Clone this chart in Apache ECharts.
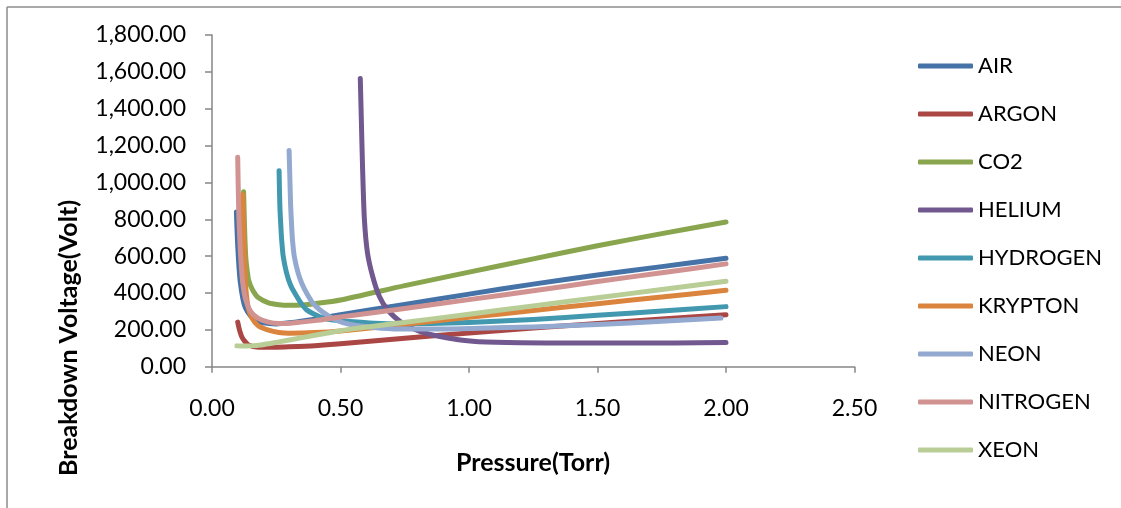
<!DOCTYPE html>
<html>
<head>
<meta charset="utf-8">
<script src="https://cdn.jsdelivr.net/npm/echarts@6/dist/echarts.min.js"></script>
<style>
html,body{margin:0;padding:0;background:#fff;}
#chart{width:1121px;height:508px;}
</style>
</head>
<body>
<div id="chart"></div>
<script>
// ---- Data ----
const seriesNames = ["AIR","ARGON","CO2","HELIUM","HYDROGEN","KRYPTON","NEON","NITROGEN","XEON"];

const airP = [0.095,0.097,0.10,0.105,0.11,0.12,0.13,0.15,0.17,0.20,0.25,0.30,0.40,0.50,0.75,1.00,1.25,1.50,1.75,2.00];
const airV = [840,760,660,540,460,370,320,275,252,238,232,238,258,282,338,394,448,498,543,588];

const argonP = [0.10,0.105,0.11,0.115,0.123,0.142,0.18,0.25,0.30,0.40,0.50,0.75,1.00,1.25,1.50,1.75,2.00];
const argonV = [242,210,185,165,146,118,106,106,108,114,124,155,183,210,235,259,282];

const co2P = [0.123,0.125,0.128,0.132,0.137,0.142,0.15,0.161,0.18,0.22,0.26,0.30,0.35,0.40,0.50,0.75,1.00,1.25,1.50,1.75,2.00];
const co2V = [949,840,700,582,520,473,440,409,375,346,336,333,335,342,362,440,513,585,656,722,785];

const heliumP = [0.577,0.581,0.586,0.593,0.605,0.625,0.651,0.683,0.741,0.831,0.959,1.037,1.20,1.40,1.60,1.80,2.00];
const heliumV = [1564,1345,1073,800,618,491,382,309,237,182,146,136,130,128,128,129,131];

const hydrogenP = [0.261,0.264,0.268,0.271,0.277,0.29,0.305,0.322,0.345,0.368,0.40,0.432,0.48,0.535,0.63,0.73,0.85,1.00,1.25,1.50,1.75,2.00];
const hydrogenV = [1064,873,760,691,600,509,445,400,348,309,283,264,252,245,236,232,234,240,256,279,302,326];

const kryptonP = [0.12,0.122,0.125,0.128,0.132,0.14,0.155,0.18,0.22,0.26,0.30,0.40,0.50,0.75,1.00,1.25,1.50,1.75,2.00];
const kryptonV = [935,800,650,520,418,327,265,222,198,186,182,185,194,230,268,305,342,378,415];

const neonP = [0.30,0.303,0.306,0.31,0.313,0.32,0.335,0.35,0.368,0.39,0.419,0.45,0.483,0.535,0.63,0.73,0.85,1.04,1.25,1.50,1.75,1.98];
const neonV = [1173,1020,873,760,691,600,509,450,400,350,309,278,252,230,212,204,204,209,216,229,246,264];

const nitrogenP = [0.10,0.102,0.105,0.11,0.115,0.12,0.13,0.15,0.18,0.22,0.26,0.30,0.40,0.50,0.75,1.00,1.25,1.50,1.75,2.00];
const nitrogenV = [1137,980,800,640,530,450,370,300,262,242,235,236,250,270,316,364,412,462,510,558];

const xeonP = [0.097,0.12,0.15,0.19,0.25,0.34,0.45,0.54,0.73,1.00,1.25,1.50,1.75,2.00];
const xeonV = [113,112,113,118,132,155,183,204,237,285,330,374,419,464];

const xTicks = [0,0.5,1.0,1.5,2.0,2.5];
const yTicks = [0,200,400,600,800,1000,1200,1400,1600,1800];

const xTitle = "Pressure(Torr)";
const yTitle = "Breakdown Voltage(Volt)";

const colors = ["#4572A7","#AA4643","#89A54E","#71588F","#4198AF","#DB843D","#93A9CF","#D19392","#B9CD96"];

const seriesData = [
  [airP, airV],[argonP, argonV],[co2P, co2V],[heliumP, heliumV],[hydrogenP, hydrogenV],
  [kryptonP, kryptonV],[neonP, neonV],[nitrogenP, nitrogenV],[xeonP, xeonV]
];

function zip(px, vy){ return px.map((p,i)=>[p, vy[i]]); }

const FONT = "Lato";

const chart = echarts.init(document.getElementById('chart'), null, {renderer:'canvas'});
const option = {
  backgroundColor: '#ffffff',
  animation: false,
  color: colors,
  grid: {left: 212, top: 35, width: 642.5, height: 331.7, containLabel: false},
  xAxis: {
    type: 'value', min: 0, max: 2.5, interval: 0.5,
    axisLine: {show: true, onZero: false, lineStyle: {color: '#868686', width: 1.5}},
    axisTick: {show: true, length: 6, lineStyle: {color: '#868686', width: 1.5}},
    splitLine: {show: false},
    axisLabel: {margin: 30, color: '#000', fontFamily: FONT, fontSize: 23,
      formatter: v => v.toFixed(2)}
  },
  yAxis: {
    type: 'value', min: 0, max: 1800, interval: 200,
    axisLine: {show: true, lineStyle: {color: '#868686', width: 1.5}},
    axisTick: {show: true, length: 7, lineStyle: {color: '#868686', width: 1.5}},
    splitLine: {show: false},
    axisLabel: {margin: 26, color: '#000', fontFamily: FONT, fontSize: 23,
      formatter: v => v.toLocaleString('en-US', {minimumFractionDigits: 2, maximumFractionDigits: 2})}
  },
  legend: {
    orient: 'vertical', left: 918, top: 54, padding: 0,
    icon: 'roundRect', itemWidth: 55, itemHeight: 5, itemGap: 24,
    textStyle: {color: '#000', fontFamily: FONT, fontSize: 22, lineHeight: 24},
    data: seriesNames
  },
  graphic: [
    {type: 'line', shape: {x1: 7, y1: 7, x2: 1121, y2: 7}, style: {stroke: '#8c8c8c', lineWidth: 1.5}},
    {type: 'line', shape: {x1: 7, y1: 7, x2: 7, y2: 508}, style: {stroke: '#8c8c8c', lineWidth: 1.5}},
    {type: 'text', x: 533, y: 463, style: {text: xTitle, font: 'bold 25px Lato', fill: '#000', textAlign: 'center', textVerticalAlign: 'middle'}},
    {type: 'text', x: 69, y: 338, rotation: Math.PI/2, style: {text: yTitle, font: 'bold 25px Lato', fill: '#000', textAlign: 'center', textVerticalAlign: 'middle'}}
  ],
  series: seriesNames.map((n, i) => ({
    name: n, type: 'line', data: zip(seriesData[i][0], seriesData[i][1]),
    showSymbol: false, symbol: 'none', smooth: 0.25,
    lineStyle: {width: 5, cap: 'round', join: 'round', color: colors[i]},
    itemStyle: {color: colors[i]}
  }))
};
chart.setOption(option);
</script>
</body>
</html>
